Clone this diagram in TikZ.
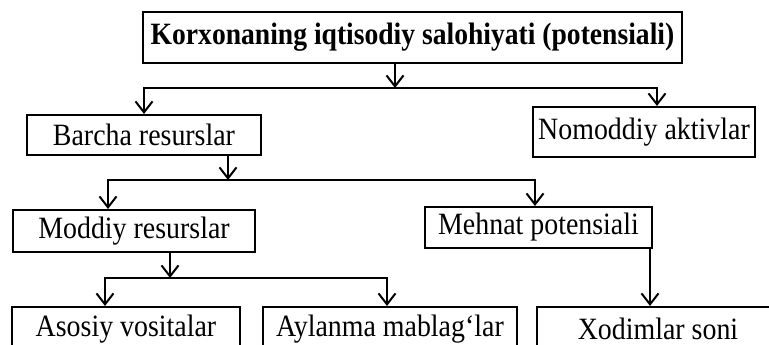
\documentclass[tikz,border=0pt]{standalone}
\usepackage{fontspec}
\setmainfont{Liberation Serif}[FakeStretch=0.9]
\newfontfamily\headfont{Liberation Serif}[FakeStretch=0.89]
\usetikzlibrary{arrows.meta}

\begin{document}
\begin{tikzpicture}[x=1pt, y=-1pt, line width=2pt, >={Straight Barb[length=11pt,width=17pt]},
    main/.style = {draw, rectangle, inner sep=0pt, minimum height=41pt, font=\fontsize{31}{34}\selectfont},
    head/.style = {main, font=\fontsize{31}{34}\selectfont\headfont\bfseries},
    low/.style = {main, minimum height=44pt}]
    \clip (0,0) rectangle (769,345);
    \node[head, minimum width=539pt, minimum height=51pt] (1) at (412.5,37.5) {Korxonaning iqtisodiy salohiyati (potensiali)};
    \node[main, minimum width=234pt, minimum height=40pt] (2) at (144,135) {Barcha resurslar};
    \node[main, minimum width=222pt, minimum height=50pt] (3) at (644,132) {Nomoddiy aktivlar};
    \node[main, minimum width=242pt, minimum height=42pt] (4) at (134,231) {Moddiy resurslar};
    \node[main, minimum width=227pt] (5) at (538.5,227.5) {Mehnat potensiali};
    \node[low, minimum width=228pt] (6) at (126,329) {Asosiy vositalar};
    \node[low, minimum width=254pt] (7) at (390,329) {Aylanma mablag‘lar};
    \node[low, minimum width=242pt] (8) at (658,329) {Xodimlar soni};
    \coordinate (a) at (395,88);
    \coordinate (b) at (228,180);
    \coordinate (c) at (170,278);
    \coordinate (d) at (650,0);
    \draw[->] (1.south -| a) -- (a);
    \draw[->] (a) -| (2.north);
    \draw[->] (a) -| ([xshift=13pt]3.north);
    \draw[->] (2.south -| b) -- (b);
    \draw[->] (b) -| ([xshift=-26pt]4.north);
    \draw[->] (b) -| ([xshift=-3.5pt]5.north);
    \draw[->] (4.south -| c) -- (c);
    \draw[->] (c) -| ([xshift=-21pt]6.north);
    \draw[->] (c) -| ([xshift=-3pt]7.north);
    \draw[->] (5.south -| d) -- (8.north -| d);
\end{tikzpicture}
\end{document}
